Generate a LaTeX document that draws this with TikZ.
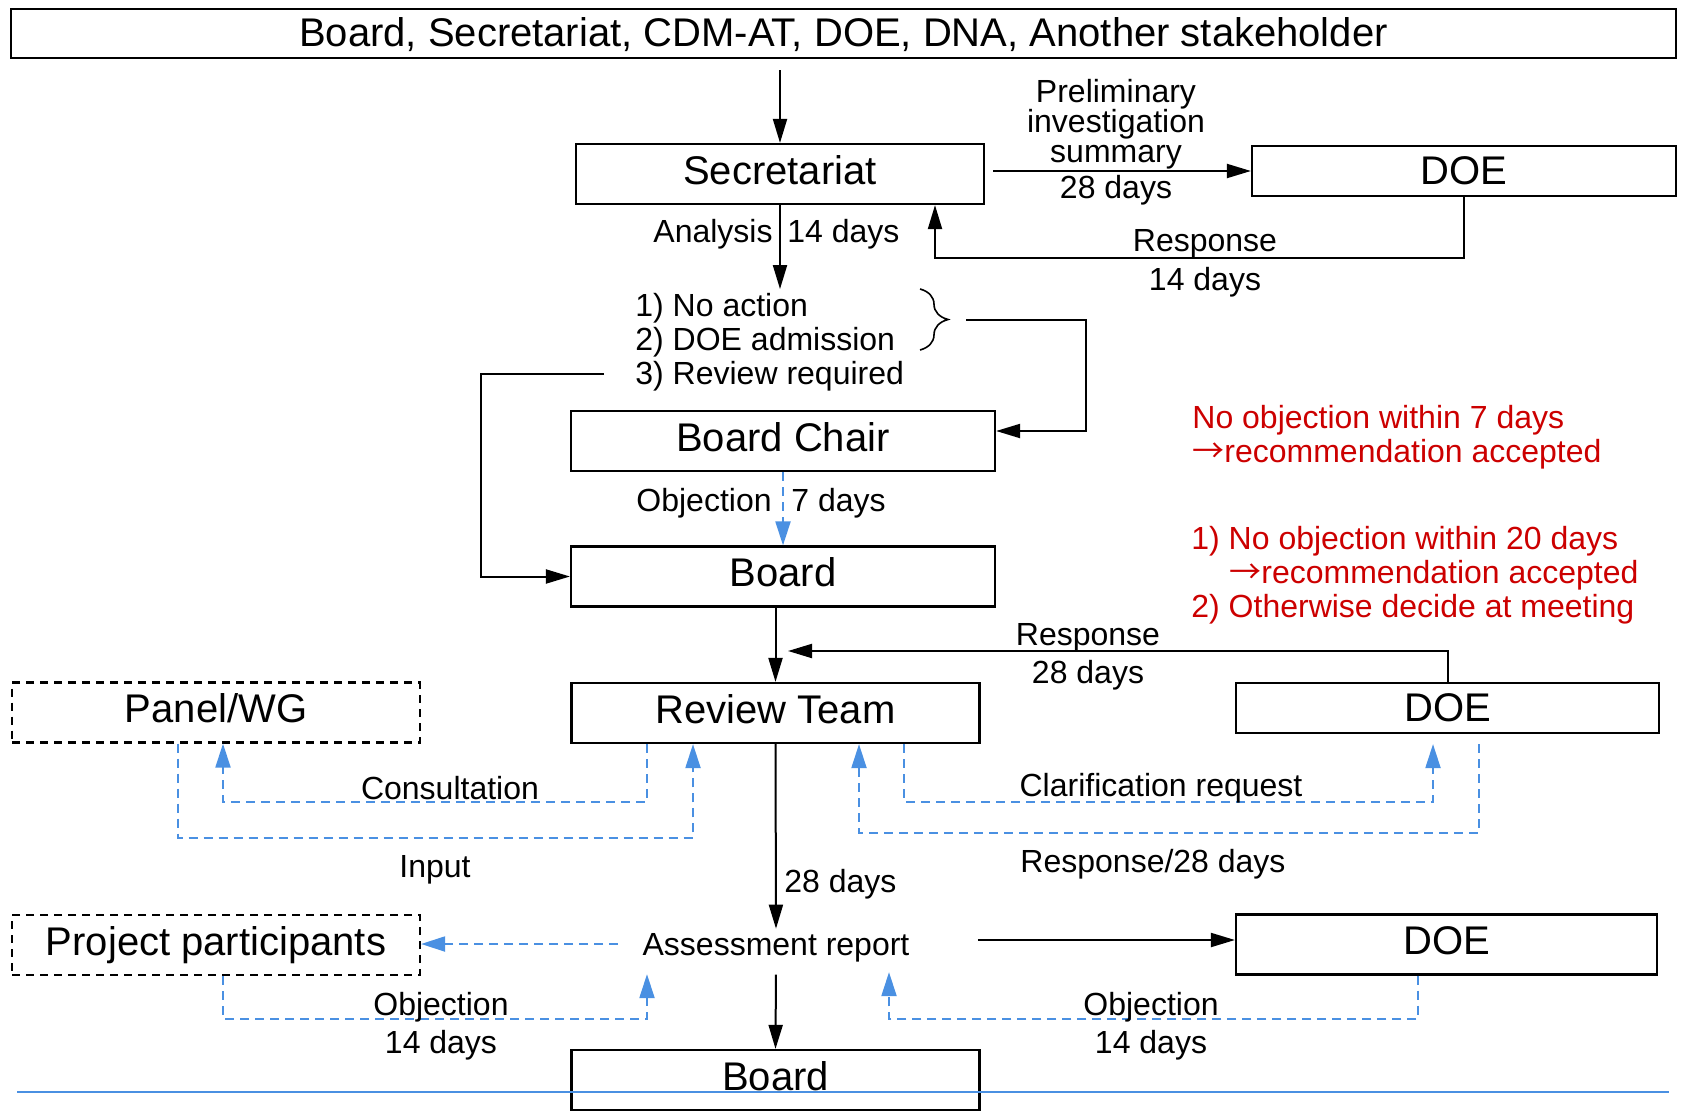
\documentclass[tikz,border=0pt]{standalone}
\usepackage{fontspec}
\setmainfont{Liberation Sans}
\newfontfamily\arrowfont{Noto Sans CJK SC}
\usepackage{tikz}
\usetikzlibrary{positioning, arrows.meta, calc, decorations.pathreplacing}
\definecolor{flowblue}{RGB}{74,144,226}
\definecolor{rulered}{RGB}{204,0,0}
\newcommand{\toarrow}{{\arrowfont →}}

\begin{document}
\begin{tikzpicture}[x=0.5pt, y=-0.5pt, every node/.style={inner sep=2pt},
  box/.style={draw, line width=1.1pt, font=\fontsize{20}{24}\selectfont,
    minimum width=204pt, minimum height=30pt, inner sep=0pt, text depth=4pt},
  dbox/.style={box, dash pattern=on 4pt off 3pt},
  lbl/.style={font=\fontsize{16}{17}\selectfont, align=center, yshift=-1.7pt},
  note/.style={font=\fontsize{16}{17}\selectfont, color=rulered, align=left,
    anchor=west, yshift=-1.7pt},
  arrow/.style={-{Triangle[length=12pt, width=7pt]}, line width=1pt},
  query/.style={-{Triangle[length=12pt, width=7.5pt]}, flowblue, line width=1pt,
    dash pattern=on 4.5pt off 3pt}]
\useasboundingbox (0,0) rectangle (1681,1113);

\node[box, minimum width=832.5pt, minimum height=24.5pt, text depth=1pt] (src) at (843.5,33.5)
  {Board, Secretariat, CDM-AT, DOE, DNA, Another stakeholder};
\node[box] (sec) at (780,174) {Secretariat};
\node[box, minimum width=212pt, minimum height=25pt, text depth=0pt] (doe1) at (1464,171) {DOE};
\node[lbl, anchor=west, align=left] (opts) at (631,339)
  {1) No action\\2) DOE admission\\3) Review required};
\node[box, minimum width=212pt] (chair) at (783,441) {Board Chair};
\node[box, minimum width=212pt] (board) at (783,576.5) {Board};
\node[box] (review) at (775.5,713) {Review Team};
\node[box, minimum width=211.5pt, minimum height=25pt, text depth=0pt] (doe2) at (1447.5,708) {DOE};
\node[dbox] (panel) at (216,712.5) {Panel/WG};
\node[dbox] (proj) at (216,945) {Project participants};
\node[lbl] (assess) at (776,944) {Assessment report};
\node[box, minimum width=210.5pt] (doe3) at (1446.5,944.5) {DOE};
\node[box] (board2) at (775.5,1080) {Board};

\node[note] (rule1) at (1188,434) {No objection within 7 days\\\toarrow recommendation accepted};
\node[note] (rule2) at (1187,572) {1) No objection within 20 days\\
  \hspace*{19pt}\toarrow recommendation accepted\\2) Otherwise decide at meeting};

\draw[arrow, shorten <=5.5pt] (src.south -| sec.north) -- (sec.north);
\draw[arrow, shorten <=4pt] (sec.east |- doe1.west) -- (doe1.west);
\node[lbl, font=\fontsize{16}{15}\selectfont] (prelim) at (1116,121)
  {Preliminary\\investigation\\summary};
\node[lbl] (prelim28) at (1116,187) {28 days};

\coordinate (ret) at (935,258);
\draw[arrow] (doe1.south) |- (ret) -- (ret |- sec.south);
\node[lbl] (retlbl) at (1205,240) {Response};
\node[lbl] (ret14) at (1205,279) {14 days};

\draw[arrow] (sec.south) -- (sec.south |- opts.north);
\node[lbl, anchor=east] (analbl) at (777,231) {Analysis};
\node[lbl, anchor=west] (ana14) at (783,231) {14 days};

\draw[decorate, decoration={brace, amplitude=14pt}, line width=0.8pt] (920,289) -- (920,350);
\coordinate (bt) at (966,320);
\coordinate (br) at (1086,431);
\draw[arrow] (bt) -| (br) -- (br -| chair.east);
\coordinate (rv) at (604,374);
\coordinate (lc) at (481,374);
\draw[arrow] (rv) -- (lc) |- (board.west);

\draw[query] (chair.south) -- (board.north);
\node[lbl, anchor=east] (objlbl) at (776,500) {Objection};
\node[lbl, anchor=west] (obj7) at (787,500) {7 days};

\draw[arrow] (board.south -| review.north) -- (review.north);
\coordinate (r28) at (788,651);
\draw[arrow] (doe2.north) |- (r28);
\node[lbl] (r28lbl) at (1088,634) {Response};
\node[lbl] (r28d) at (1088,672) {28 days};

\coordinate (con) at (223,802);
\draw[query] ([xshift=-64.25pt]review.south) |- (con) -- (con |- panel.south);
\node[lbl] (conlbl) at (450,785) {Consultation};
\coordinate (inp) at (693,838);
\draw[query] ([xshift=-19pt]panel.south) |- (inp) -- (inp |- review.south);
\node[lbl] (inplbl) at (435,866) {Input};
\coordinate (clr) at (1433,802);
\draw[query, shorten >=5pt] ([xshift=64.25pt]review.south) |- (clr) -- (clr |- doe2.south);
\node[lbl] (clrlbl) at (1161,785) {Clarification request};
\coordinate (rsp) at (859,833);
\draw[query, shorten <=5pt] ([xshift=15.75pt]doe2.south) |- (rsp) -- (rsp |- review.south);
\node[lbl] (rsplbl) at (1153,861) {Response/28 days};

\draw[arrow] (review.south) -- (assess.north);
\node[lbl, anchor=west] (rev28) at (780,881) {28 days};
\draw[query, shorten <=10pt] ([yshift=1.7pt]assess.west) -- ([yshift=1.7pt]assess.west -| proj.east);
\draw[arrow, shorten <=32pt] ([yshift=3.7pt]assess.east) -- ([yshift=3.7pt]assess.east -| doe3.west);
\draw[arrow, shorten <=4.3pt] (assess.south) -- (board2.north);

\coordinate (objl) at (647,1019);
\draw[query, shorten >=4pt] ([xshift=3.5pt]proj.south) |- (objl) -- (objl |- assess.south);
\node[lbl] (objllbl) at (441,1004) {Objection};
\node[lbl] (objl14) at (441,1042) {14 days};
\coordinate (objr) at (889,1019);
\draw[query, shorten >=3pt] ([xshift=-14.25pt]doe3.south) |- (objr) -- (objr |- assess.south);
\node[lbl] (objrlbl) at (1151,1004) {Objection};
\node[lbl] (objr14) at (1151,1042) {14 days};

\draw[flowblue, line width=1.2pt] (17,1092) -- (1669,1092);
\end{tikzpicture}
\end{document}
